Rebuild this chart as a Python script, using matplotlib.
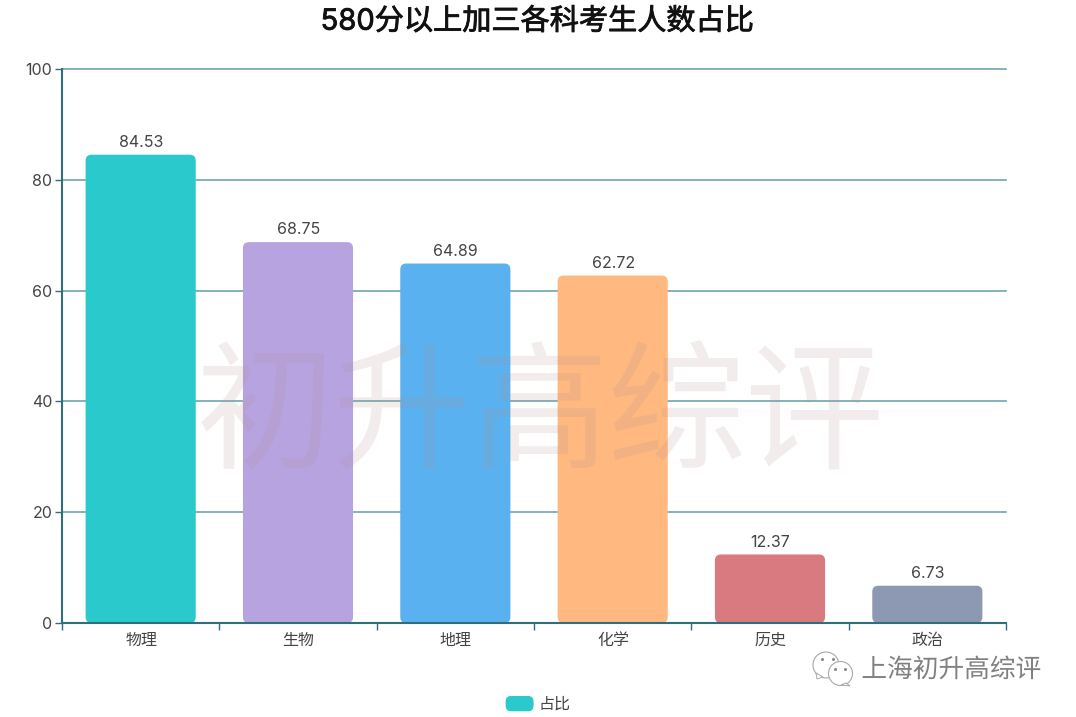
import matplotlib
matplotlib.use("Agg")
import matplotlib.pyplot as plt
import matplotlib.patheffects as pe
from matplotlib.patches import FancyBboxPatch, Patch, Circle, Polygon
from matplotlib.legend_handler import HandlerPatch

plt.rcParams['font.family'] = ['Inter', 'Noto Sans CJK SC', 'DejaVu Sans']

subjects = ["物理", "生物", "地理", "化学", "历史", "政治"]
shares = [84.53, 68.75, 64.89, 62.72, 12.37, 6.73]
colors = ["#2ac9cc", "#b7a3e0", "#5ab1ef", "#ffb980", "#d87a80", "#8d98b3"]
yticks = [0, 20, 40, 60, 80, 100]
title = "580分以上加三各科考生人数占比"
series_name = "占比"
watermark = "初升高综评"
account = "上海初升高综评"

W, H = 1076, 717
AXIS = "#2f6f7c"
GRID = "#6fa5ad"
TEXT = "#444444"


def round_handle(legend, orig_handle, xdescent, ydescent, width, height, fontsize):
  return FancyBboxPatch((-xdescent, -ydescent), width, height, boxstyle="round,pad=0,rounding_size=4")


fig = plt.figure(figsize=(W / 100, H / 100), dpi=100)
ax = fig.add_axes([62 / W, 1 - 623 / H, 944 / W, 554 / H])
ax.set_xlim(0, len(subjects))
ax.set_ylim(0, 100)

# px per data unit, so the corners come out round
x_px = 944 / len(subjects)
y_px = 554 / 100

bars = ax.bar(range(len(subjects)), shares, width=0.7, align="edge", alpha=0)
for i, rect in enumerate(bars):
  rect.set_x(i + 0.15)
  box = FancyBboxPatch((rect.get_x(), 0), rect.get_width(), rect.get_height(),
                       boxstyle="round,pad=0,rounding_size=%f" % (6 / x_px),
                       mutation_aspect=x_px / y_px, facecolor=colors[i],
                       edgecolor="none", zorder=3)
  ax.add_patch(box)
  ax.text(i + 0.503, shares[i] + 0.85, "%.2f" % shares[i], ha="center", va="bottom",
          fontsize=11.5, color=TEXT, zorder=5)

ax.set_xticks(range(len(subjects) + 1))
ax.set_xticklabels([""] * (len(subjects) + 1))
for i, name in enumerate(subjects):
  ax.text(i + 0.503, -1.8, name, ha="center", va="top", fontsize=11.5, color=TEXT)
ax.set_yticks(yticks)
ax.tick_params(axis="y", labelsize=11.5, labelcolor=TEXT, color=AXIS, length=5, width=1, pad=2)
ax.tick_params(axis="x", color=AXIS, length=5, width=1)
ax.grid(axis="y", color=GRID, linewidth=1.2, zorder=1)
for line in ax.get_ygridlines():
  line.set_clip_on(False)
ax.set_axisbelow(True)
for side in ["top", "right"]:
  ax.spines[side].set_visible(False)
for side in ["left", "bottom"]:
  ax.spines[side].set_color(AXIS)
  ax.spines[side].set_linewidth(1.5)
  ax.spines[side].set_zorder(6)

fig.text(537 / W, 1 - 22 / H, title, ha="center", va="center", fontsize=21, color="#111111",
         path_effects=[pe.withStroke(linewidth=0.6, foreground="#111111")])

# large faint watermark over the plot
for i, ch in enumerate(watermark):
  fig.text((265 + i * 137) / W, 1 - 421 / H, ch, ha="center", va="center", fontsize=100,
           color="#b38f8f", alpha=0.17, zorder=10)

handle = Patch(facecolor=colors[0], edgecolor="none")
fig.legend([handle], [series_name], loc="center", bbox_to_anchor=(538 / W, 1 - 704 / H),
           frameon=False, fontsize=11.5, labelcolor=TEXT, handlelength=1.75, handleheight=1.1,
           handletextpad=0.3, handler_map={Patch: HandlerPatch(patch_func=round_handle)})

# account mark bottom right: two chat bubbles and the name
overlay = fig.add_axes([0, 0, 1, 1], facecolor="none")
overlay.set_xlim(0, W)
overlay.set_ylim(H, 0)
overlay.axis("off")
for cx, cy, r in [(826, 665, 13), (840.5, 673.5, 12)]:
  overlay.add_patch(Circle((cx, cy), r, facecolor="white", edgecolor="#a8a8a8", linewidth=0.8))
overlay.add_patch(Polygon([(816, 673), (817, 679), (823, 677)], facecolor="white", edgecolor="#a8a8a8", linewidth=0.7))
overlay.add_patch(Polygon([(846, 683), (850, 686), (841, 685)], facecolor="white", edgecolor="#a8a8a8", linewidth=0.7))
overlay.plot([822, 833, 835, 845], [659, 659, 669, 669], ls="none", marker="o", ms=1.2, color="#8a8a8a")
overlay.text(951.5, 670, account, ha="center", va="center", fontsize=18.5, color="#808080",
             path_effects=[pe.withStroke(linewidth=1.2, foreground="white")])

fig.savefig("out.png", dpi=100)
